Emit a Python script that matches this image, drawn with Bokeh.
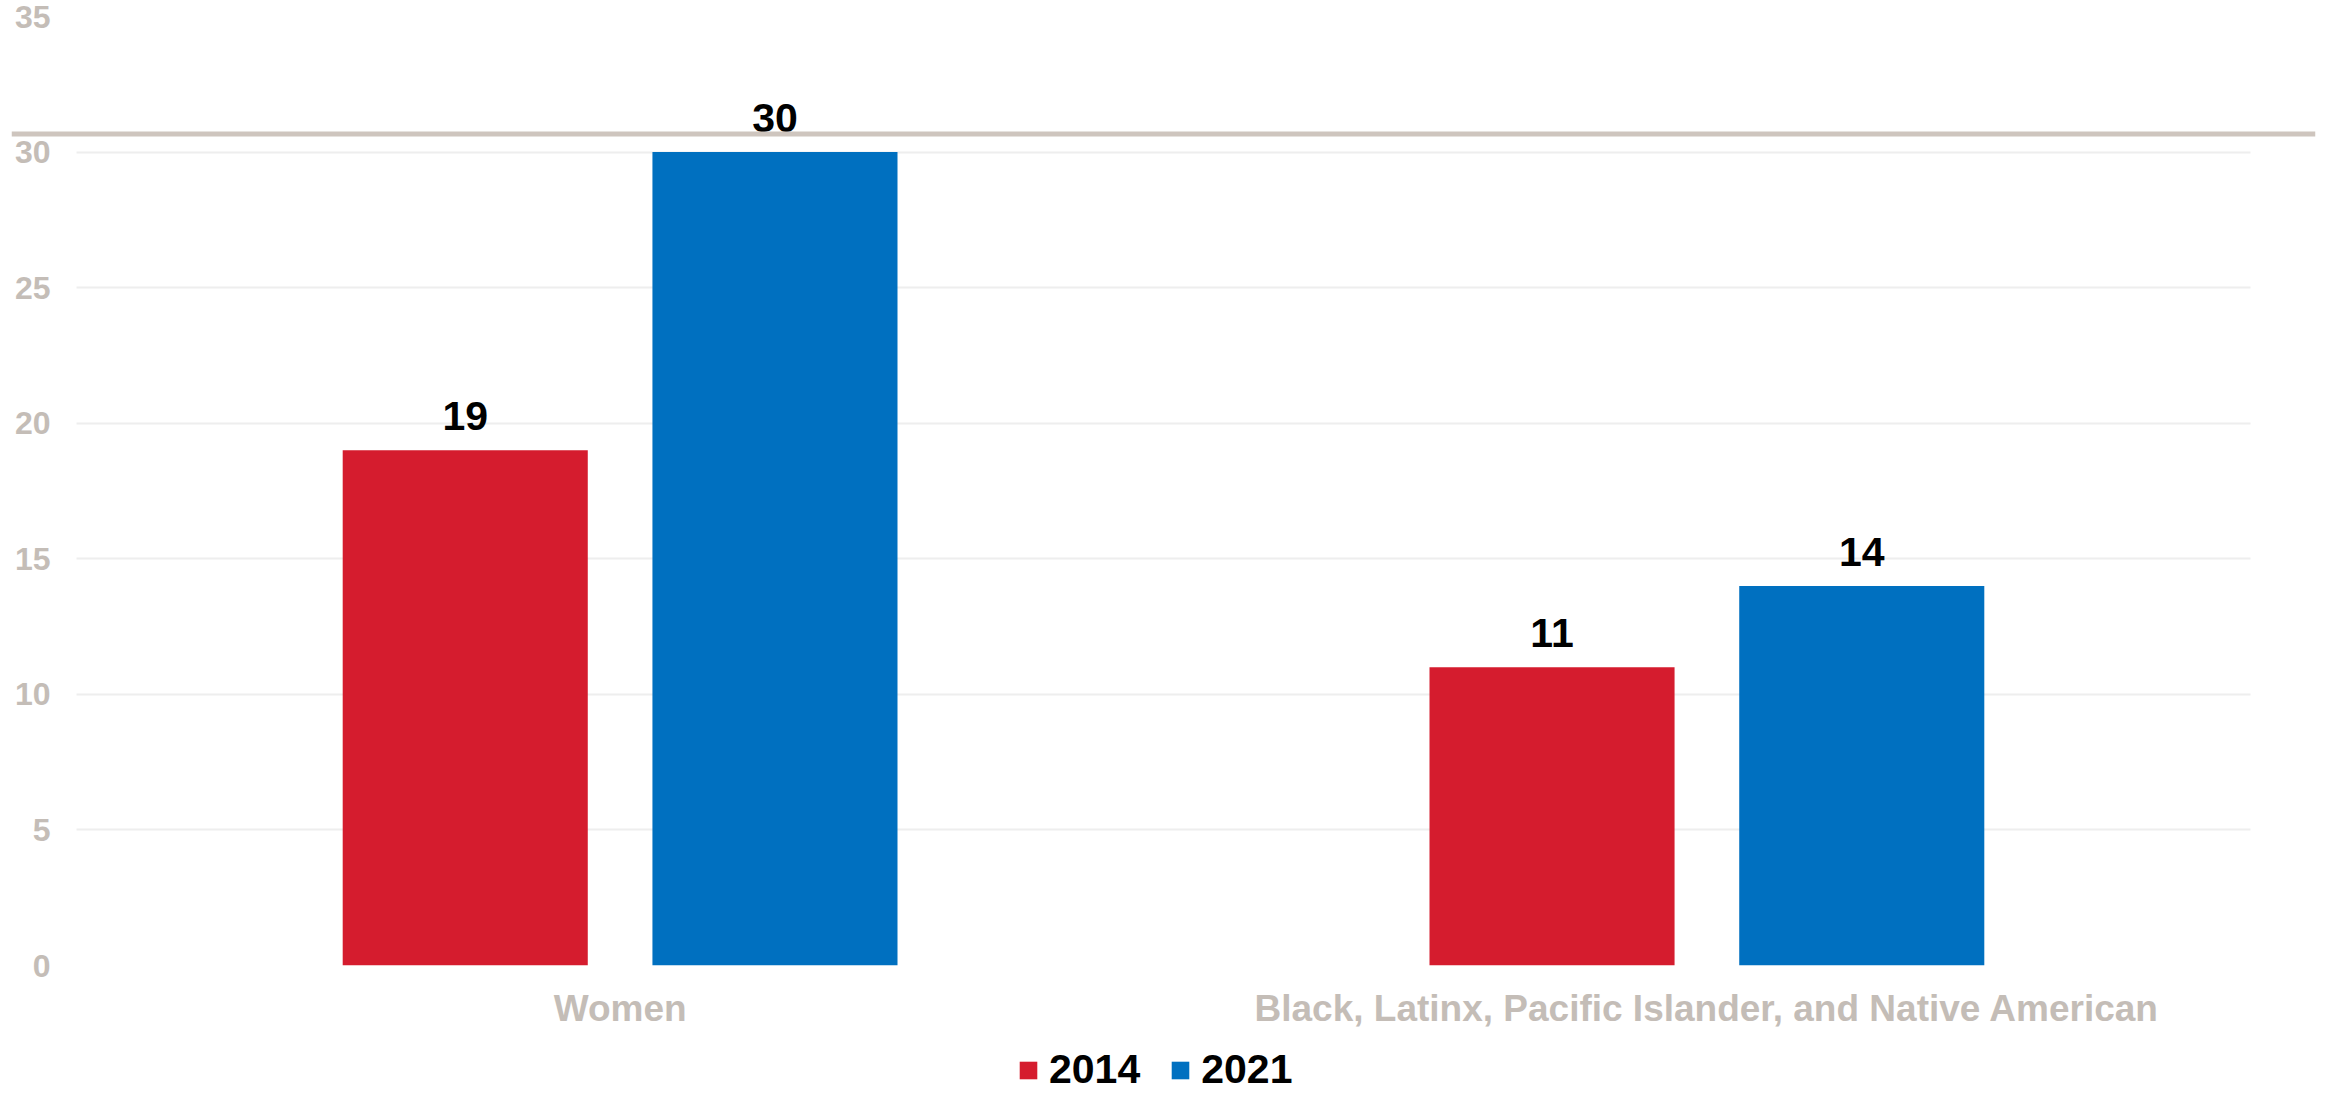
from bokeh.plotting import figure
from bokeh.layouts import column
from bokeh.core.properties import value
from bokeh.models import (ColumnDataSource, FactorRange, Range1d, FixedTicker,
                          LabelSet, Legend, LegendItem, Span)
from bokeh.transform import dodge
from bokeh.embed import file_html
from bokeh.resources import INLINE

# ---- data ----
categories = ["Women", "Black, Latinx, Pacific Islander, and Native American"]
years = ["2014", "2021"]
values_2014 = [19, 11]
values_2021 = [30, 14]
y_ticks = [0, 5, 10, 15, 20, 25, 30, 35]

# ---- style ----
RED = "#D51C2E"
BLUE = "#0070C0"
GRAY_TEXT = "#C4BDB7"
GRID = "#EEEEEE"
RULE = "#CEC5BE"
FONT = "Liberation Sans"

W = 2325
H_MAIN = 1044
H_LEG = 50

p = figure(width=W, height=H_MAIN,
           x_range=FactorRange(factors=categories, range_padding=0.06,
                               range_padding_units="absolute"),
           y_range=Range1d(0, 35),
           output_backend="svg", toolbar_location=None,
           min_border_left=11, min_border_right=10,
           min_border_top=16, min_border_bottom=79)
p.outline_line_color = None
p.background_fill_color = "white"
p.border_fill_color = "white"

src = ColumnDataSource(dict(cat=categories, v2014=values_2014, v2021=values_2021,
                            t2014=[str(v) for v in values_2014],
                            t2021=[str(v) for v in values_2021]))

OFF = 0.1425
BW = 0.2255
r1 = p.vbar(x=dodge("cat", -OFF, range=p.x_range), top="v2014", width=BW,
            fill_color=RED, line_color=None, source=src)
r2 = p.vbar(x=dodge("cat", OFF, range=p.x_range), top="v2021", width=BW,
            fill_color=BLUE, line_color=None, source=src)

for off, col, txt in [(-OFF, "v2014", "t2014"), (OFF, "v2021", "t2021")]:
    lbl = LabelSet(x=dodge("cat", off, range=p.x_range), y=col, text=txt,
                   source=src, y_offset=20, text_align="center",
                   text_baseline="alphabetic", text_font=value(FONT),
                   text_font_style="bold", text_font_size="41px",
                   text_color="black")
    p.add_layout(lbl)

# decorative rule across the chart
p.add_layout(Span(location=30.67, dimension="width", line_color=RULE,
                  line_width=5))

# axes
p.yaxis.ticker = FixedTicker(ticks=y_ticks)
p.yaxis.axis_line_color = None
p.yaxis.major_tick_line_color = None
p.yaxis.minor_tick_line_color = None
p.yaxis.major_tick_out = 0
p.yaxis.major_label_standoff = -39
p.yaxis.major_label_text_font = FONT
p.yaxis.major_label_text_font_style = "bold"
p.yaxis.major_label_text_font_size = "32px"
p.yaxis.major_label_text_color = GRAY_TEXT

p.xaxis.axis_line_color = None
p.xaxis.major_tick_line_color = None
p.xaxis.minor_tick_line_color = None
p.xaxis.major_tick_out = 0
p.xaxis.major_label_standoff = 22
p.xaxis.major_label_text_font = FONT
p.xaxis.major_label_text_font_style = "bold"
p.xaxis.major_label_text_font_size = "37px"
p.xaxis.major_label_text_color = GRAY_TEXT

p.xgrid.grid_line_color = None
p.ygrid.grid_line_color = GRID
p.ygrid.grid_line_width = 2
p.ygrid.cross_bounds = (0, len(categories))

# ---- legend strip ----
leg = figure(width=W, height=H_LEG, x_range=FactorRange(factors=years),
             y_range=Range1d(0, 1),
             output_backend="svg", toolbar_location=None,
             min_border=0, min_border_left=0, min_border_right=0,
             min_border_top=0, min_border_bottom=0)
leg.axis.visible = False
leg.grid.visible = False
leg.outline_line_color = None
leg.background_fill_color = "white"
leg.border_fill_color = "white"
# zero-height bars: they only carry the legend swatches
lsrc = ColumnDataSource(dict(year=years, zero=[0] * len(years)))
g1 = leg.vbar(x="year", top="zero", width=0.1, fill_color=RED, line_color=None,
              source=lsrc)
g2 = leg.vbar(x="year", top="zero", width=0.1, fill_color=BLUE, line_color=None,
              source=lsrc)

legend = Legend(items=[LegendItem(label=years[0], renderers=[g1]),
                       LegendItem(label=years[1], renderers=[g2])],
                orientation="horizontal", location=(1006, 1),
                glyph_width=22, glyph_height=22, label_standoff=10, spacing=29,
                padding=0, margin=0, border_line_color=None,
                background_fill_alpha=0,
                label_text_font=FONT, label_text_font_style="bold",
                label_text_font_size="41px", label_text_color="black")
leg.add_layout(legend, "center")

layout = column(p, leg, spacing=0)
open("out.html", "w").write(file_html(layout, INLINE))
